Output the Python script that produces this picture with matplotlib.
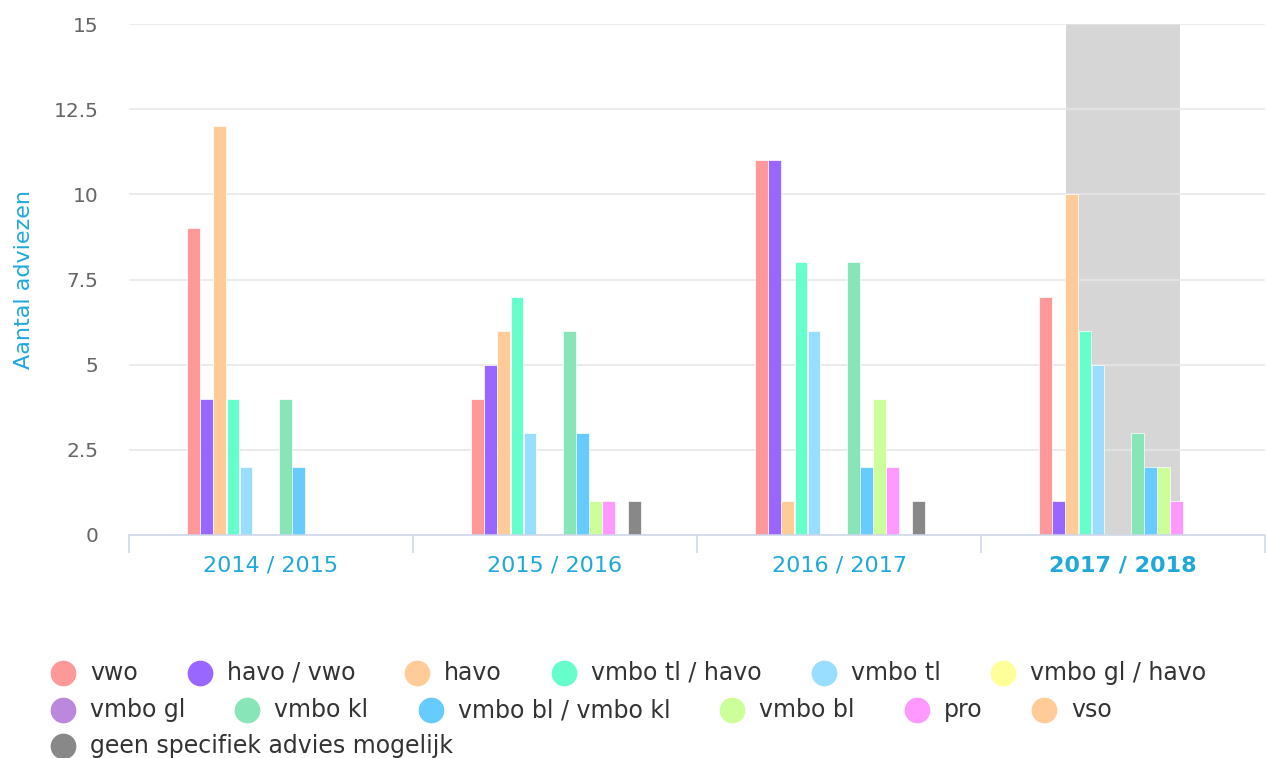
import numpy as np
import matplotlib
matplotlib.use("Agg")
import matplotlib.pyplot as plt
from matplotlib.lines import Line2D

years = ["2014 / 2015", "2015 / 2016", "2016 / 2017", "2017 / 2018"]

series_names = ["vwo", "havo / vwo", "havo", "vmbo tl / havo", "vmbo tl",
                "vmbo gl / havo", "vmbo gl", "vmbo kl", "vmbo bl / vmbo kl",
                "vmbo bl", "pro", "vso", "geen specifiek advies mogelijk"]

series_colors = ["#ff9999", "#9966ff", "#ffcc99", "#66ffcc", "#99ddff",
                 "#ffff99", "#bb88dd", "#88e5b8", "#66ccff",
                 "#ccff99", "#ff99ff", "#ffcc99", "#888888"]

# aantal adviezen per jaar (per serie)
vwo = [9, 4, 11, 7]
havo_vwo = [4, 5, 11, 1]
havo = [12, 6, 1, 10]
vmbo_tl_havo = [4, 7, 8, 6]
vmbo_tl = [2, 3, 6, 5]
vmbo_gl_havo = [0, 0, 0, 0]
vmbo_gl = [0, 0, 0, 0]
vmbo_kl = [4, 6, 8, 3]
vmbo_bl_kl = [2, 3, 2, 2]
vmbo_bl = [0, 1, 4, 2]
pro = [0, 1, 2, 1]
vso = [0, 0, 0, 0]
geen = [0, 1, 1, 0]

series_values = [vwo, havo_vwo, havo, vmbo_tl_havo, vmbo_tl, vmbo_gl_havo,
                 vmbo_gl, vmbo_kl, vmbo_bl_kl, vmbo_bl, pro, vso, geen]

y_ticks = [0, 2.5, 5, 7.5, 10, 12.5, 15]
y_tick_labels = ["0", "2.5", "5", "7.5", "10", "12.5", "15"]
hover_index = 3

blue = "#1ea8dc"
W, H = 1266, 758

fig = plt.figure(figsize=(W / 100, H / 100), dpi=100)
ax = fig.add_axes([129 / W, 1 - 535 / H, (1265 - 129) / W, (535 - 24) / H])

x = np.arange(len(years))
n = len(series_names)
slot = 0.0461
bw = 0.0445
for i in range(n):
    vals = np.array(series_values[i], dtype=float)
    mask = vals > 0
    ax.bar(x[mask] + (i - (n - 1) / 2) * slot + 0.004, vals[mask], width=bw,
           color=series_colors[i], edgecolor="white", linewidth=0.5, zorder=2)

# hover band
ax.axvspan(hover_index - 0.2, hover_index + 0.2, color="#d6d6d6", zorder=0.3, lw=0)

ax.set_xlim(-0.5, len(years) - 0.5)
ax.set_ylim(0, 15)
ax.set_yticks(y_ticks)
ax.set_yticklabels(y_tick_labels)
ax.grid(axis="y", color="#e6e6e6", linewidth=1.1)
ax.set_axisbelow(True)

for s in ["top", "right", "left"]:
    ax.spines[s].set_visible(False)
ax.spines["bottom"].set_color("#ccd6eb")
ax.spines["bottom"].set_linewidth(1.1)
ax.spines["bottom"].set_zorder(3)

ax.tick_params(axis="y", length=0, pad=22, labelsize=14.5, labelcolor="#666666")
ax.set_xticks(x)
ax.set_xticklabels(years)
ax.tick_params(axis="x", which="major", length=0, pad=15, labelsize=16, labelcolor=blue)
ax.set_xticks(np.arange(-0.5, len(years)), minor=True)
ax.tick_params(axis="x", which="minor", length=13, width=1.1, color="#ccd6eb")
ax.get_xticklabels()[hover_index].set_fontweight("bold")

ax.set_ylabel("Aantal adviezen", color=blue, fontsize=16)
ax.yaxis.set_label_coords((34 - 129) / (1265 - 129), 0.5)

# legend, flowed like the original
renderer = fig.canvas.get_renderer()
row_y = [673, 710, 746]
left = 51
max_right = 1250
cx, row = left, 0
fs = 17.0
for name, col in zip(series_names, series_colors):
    t = fig.text(0, 0, name, fontsize=fs, color="#333333", va="center", ha="left")
    tw = t.get_window_extent(renderer).width
    if cx + 39 + tw > max_right:
        row += 1
        cx = left
    y = 1 - row_y[row] / H
    t.set_position(((cx + 39) / W, y))
    fig.add_artist(Line2D([(cx + 12) / W], [y], marker="o", markersize=17.5,
                          color=col, transform=fig.transFigure, linestyle="none"))
    cx = cx + 39 + tw + 50

fig.savefig("out.png", dpi=100)
